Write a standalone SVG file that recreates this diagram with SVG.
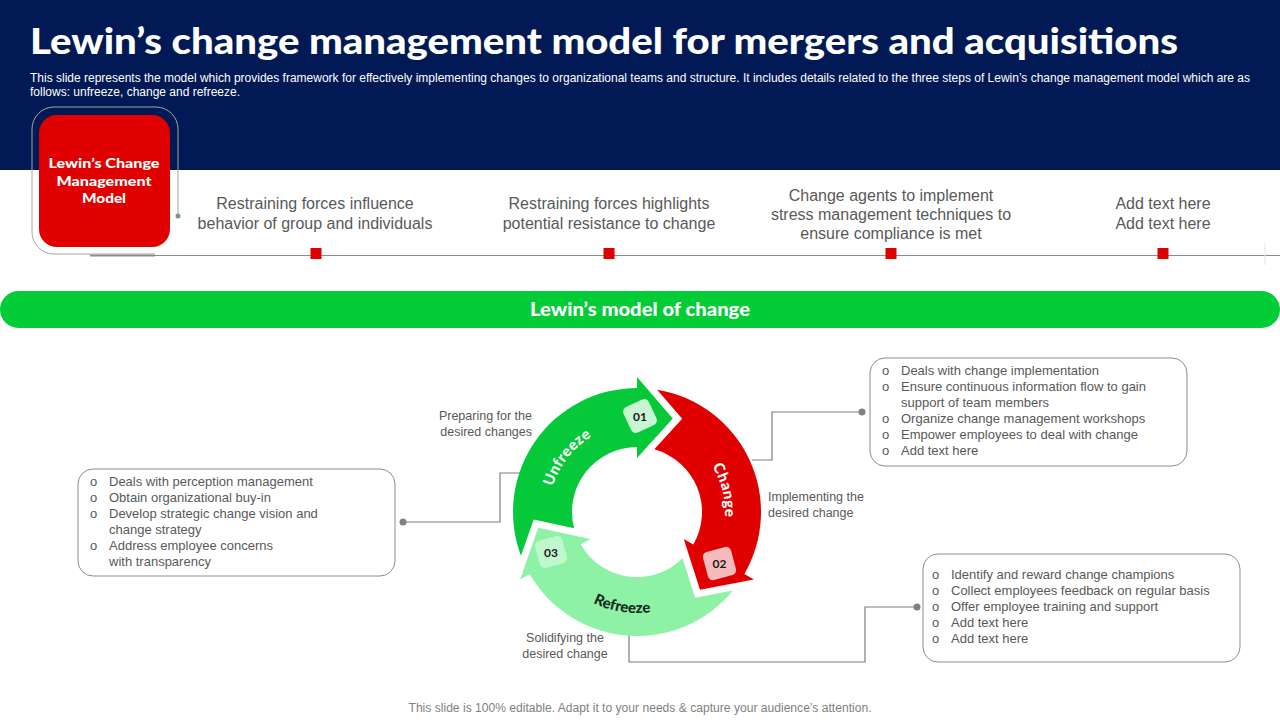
<svg xmlns="http://www.w3.org/2000/svg" width="1280" height="720" viewBox="0 0 1280 720">
<style>
.title{font-family:Lato,"Open Sans",sans-serif;font-weight:900;fill:#fff}
.sub{font-family:"Liberation Sans",Arial,sans-serif;fill:#fff;font-size:12px}
.tl{font-family:"Liberation Sans",Arial,sans-serif;fill:#595959;font-size:16px;text-anchor:middle}
.bt{font-family:"Liberation Sans",Arial,sans-serif;fill:#595959;font-size:13px}
.lbl{font-family:"Liberation Sans",Arial,sans-serif;fill:#595959;font-size:12.5px}
.box{fill:#fff;stroke:#8c8c8c;stroke-width:1}
.con{fill:none;stroke:#7f7f7f;stroke-width:1.2}
.dot{fill:#808080}
.arc{font-family:Lato,"Open Sans",sans-serif;font-weight:900;font-size:15px}
.num{font-family:Lato,"Open Sans",sans-serif;font-weight:bold;font-size:12px;fill:#1a1a1a;text-anchor:middle}
.sq{fill:#e00000}
</style>
<defs>
<path id="seg" d="M -116.03 43.74 A 124 124 0 0 1 0 -124 L 0 -135 L 35.8 -93.4 L 0 -54 L 0 -65 A 65 65 0 0 0 -62.93 16.32 L -103.31 7.46 Z"/>
<path id="pU" d="M -81.59 32.97 A 88 88 0 0 1 12.25 -87.14"/>
<path id="pC" d="M 24.26 -84.59 A 88 88 0 0 1 61.13 63.30"/>
<path id="pR" d="M -94.29 36.20 A 101 101 0 0 0 78.49 63.56"/>
</defs>

<g id="header">
<rect x="0" y="0" width="1280" height="170" fill="#011a55"/>
<text class="title" x="30" y="54" font-size="36" textLength="1148" lengthAdjust="spacingAndGlyphs">Lewin’s change management model for mergers and acquisitions</text>
<text class="sub" x="30" y="82" textLength="1220" lengthAdjust="spacingAndGlyphs">This slide represents the model which provides framework for effectively implementing changes to organizational teams and structure. It includes details related to the three steps of Lewin’s change management model which are as</text>
<text class="sub" x="30" y="96" textLength="210" lengthAdjust="spacingAndGlyphs">follows: unfreeze, change and refreeze.</text>
</g>

<g id="timeline">
<line x1="90" y1="255.5" x2="1280" y2="255.5" stroke="#8c8c8c" stroke-width="1.2"/>
<line x1="90" y1="255.5" x2="155" y2="255.5" stroke="#8c8c8c" stroke-width="2"/>
<line x1="1265" y1="243" x2="1265" y2="265" stroke="#e6e6e6" stroke-width="1"/>
<rect class="sq" x="310.5" y="248" width="11" height="11"/>
<rect class="sq" x="603.5" y="248" width="11" height="11"/>
<rect class="sq" x="885.5" y="248" width="11" height="11"/>
<rect class="sq" x="1157.5" y="248" width="11" height="11"/>
</g>

<g id="model-node">
<path d="M 178 216 L 178 129 A 22 22 0 0 0 156 107 L 54 107 A 22 22 0 0 0 32 129 L 32 232 A 22 22 0 0 0 54 254 L 155 254" fill="none" stroke="#a6a6a6" stroke-width="1"/>
<circle cx="178" cy="216" r="2.5" fill="#8c8c8c"/>
<rect x="39" y="115" width="131" height="132" rx="18" fill="#e00000"/>
<text class="title" font-size="14" text-anchor="middle" x="104" y="168" textLength="111" lengthAdjust="spacingAndGlyphs">Lewin’s Change</text>
<text class="title" font-size="14" text-anchor="middle" x="104" y="186" textLength="95" lengthAdjust="spacingAndGlyphs">Management</text>
<text class="title" font-size="14" text-anchor="middle" x="104" y="203" textLength="44" lengthAdjust="spacingAndGlyphs">Model</text>
</g>

<g id="step1"><text class="tl" x="315" y="209">Restraining forces influence</text><text class="tl" x="315" y="229">behavior of group and individuals</text></g>
<g id="step2"><text class="tl" x="609" y="209">Restraining forces highlights</text><text class="tl" x="609" y="229">potential resistance to change</text></g>
<g id="step3"><text class="tl" x="891" y="201">Change agents to implement</text><text class="tl" x="891" y="220">stress management techniques to</text><text class="tl" x="891" y="239">ensure compliance is met</text></g>
<g id="step4"><text class="tl" x="1163" y="209">Add text here</text><text class="tl" x="1163" y="229">Add text here</text></g>

<g id="banner">
<rect x="0" y="291" width="1280" height="37" rx="18.5" fill="#02cc36"/>
<text class="title" font-size="18" text-anchor="middle" x="640" y="316" textLength="220" lengthAdjust="spacingAndGlyphs">Lewin’s model of change</text>
</g>

<g id="connectors">
<polyline class="con" points="403,522 500,522 500,473 520,473"/>
<circle class="dot" cx="403" cy="522" r="3.5"/>
<polyline class="con" points="752,460 772,460 772,412 862,412"/>
<circle class="dot" cx="862" cy="412" r="3.5"/>
<polyline class="con" points="629,632 629,662 865,662 865,607 917,607"/>
<circle class="dot" cx="917" cy="607" r="3.5"/>
</g>

<g id="cycle" transform="translate(637,512)">
<g id="unfreeze"><use href="#seg" fill="#06c93a"/>
<text class="arc" fill="#fff" letter-spacing="0.5"><textPath href="#pU" startOffset="50%" text-anchor="middle">Unfreeze</textPath></text></g>
<g id="change"><use href="#seg" fill="#e00000" transform="rotate(120)"/>
<text class="arc" fill="#fff" letter-spacing="0.5"><textPath href="#pC" startOffset="50%" text-anchor="middle">Change</textPath></text></g>
<g id="refreeze"><use href="#seg" fill="#8df2a6" transform="rotate(240)"/>
<text class="arc" fill="#1c2b1e" font-size="14"><textPath href="#pR" startOffset="50%" text-anchor="middle">Refreeze</textPath></text></g>
</g>

<g id="badge01"><rect x="626" y="402" width="28" height="28" rx="5" fill="#c8f5d4" transform="rotate(-25 640 416)"/><text class="num" x="640" y="421">01</text></g>
<g id="badge02"><rect x="705" y="549" width="29" height="29" rx="5" fill="#f6bcbc" transform="rotate(-15 719.5 563.5)"/><text class="num" x="719.5" y="568">02</text></g>
<g id="badge03"><rect x="537" y="538" width="28" height="28" rx="5" fill="#c0f8cd" transform="rotate(-15 551 552)"/><text class="num" x="551" y="557">03</text></g>

<g id="labels">
<text class="lbl" text-anchor="end" x="532" y="420">Preparing for the</text>
<text class="lbl" text-anchor="end" x="532" y="436">desired changes</text>
<text class="lbl" x="768" y="501">Implementing the</text>
<text class="lbl" x="768" y="517">desired change</text>
<text class="lbl" text-anchor="middle" x="565" y="642">Solidifying the</text>
<text class="lbl" text-anchor="middle" x="565" y="658">desired change</text>
</g>

<g id="box-unfreeze">
<rect class="box" x="78" y="469" width="317" height="107" rx="15"/>
<text class="bt" x="90" y="486">o</text><text class="bt" x="109" y="486">Deals with perception management</text>
<text class="bt" x="90" y="502">o</text><text class="bt" x="109" y="502">Obtain organizational buy-in</text>
<text class="bt" x="90" y="518">o</text><text class="bt" x="109" y="518">Develop strategic change vision and</text>
<text class="bt" x="109" y="534">change strategy</text>
<text class="bt" x="90" y="550">o</text><text class="bt" x="109" y="550">Address employee concerns</text>
<text class="bt" x="109" y="566">with transparency</text>
</g>

<g id="box-change">
<rect class="box" x="870" y="358" width="317" height="108" rx="15"/>
<text class="bt" x="882" y="375">o</text><text class="bt" x="901" y="375">Deals with change implementation</text>
<text class="bt" x="882" y="391">o</text><text class="bt" x="901" y="391">Ensure continuous information flow to gain</text>
<text class="bt" x="901" y="407">support of team members</text>
<text class="bt" x="882" y="423">o</text><text class="bt" x="901" y="423">Organize change management workshops</text>
<text class="bt" x="882" y="439">o</text><text class="bt" x="901" y="439">Empower employees to deal with change</text>
<text class="bt" x="882" y="455">o</text><text class="bt" x="901" y="455">Add text here</text>
</g>

<g id="box-refreeze">
<rect class="box" x="923" y="554" width="317" height="108" rx="15"/>
<text class="bt" x="932" y="579">o</text><text class="bt" x="951" y="579">Identify and reward change champions</text>
<text class="bt" x="932" y="595">o</text><text class="bt" x="951" y="595">Collect employees feedback on regular basis</text>
<text class="bt" x="932" y="611">o</text><text class="bt" x="951" y="611">Offer employee training and support</text>
<text class="bt" x="932" y="627">o</text><text class="bt" x="951" y="627">Add text here</text>
<text class="bt" x="932" y="643">o</text><text class="bt" x="951" y="643">Add text here</text>
</g>

<g id="footer">
<text x="640" y="712" text-anchor="middle" font-family="'Liberation Sans',Arial,sans-serif" font-size="12" fill="#7f7f7f" textLength="463" lengthAdjust="spacingAndGlyphs">This slide is 100% editable. Adapt it to your needs &amp; capture your audience’s attention.</text>
</g>
</svg>
